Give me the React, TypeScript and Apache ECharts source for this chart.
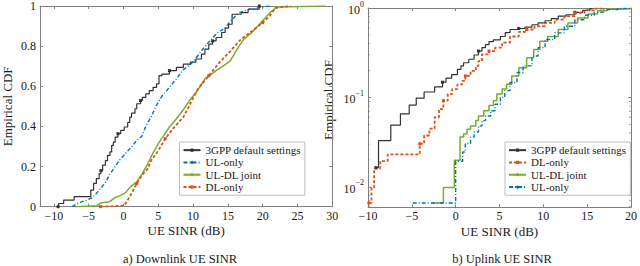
import React, { useEffect, useRef } from 'react';
import * as echarts from 'echarts';

const SERIF = 'Liberation Serif';
const N3GPP = '3GPP default settings';
const NUL = 'UL-only';
const NJOINT = 'UL-DL joint';
const NDL = 'DL-only';

// ---- axes ----
const dlXTicks = [-10, -5, 0, 5, 10, 15, 20, 25, 30];
const dlXRange = [-12, 30];
const ulXRange = [-10, 20];
const ulYRange = [0.0059, 1];
const logMinorTicks = [0.006, 0.007, 0.008, 0.009, 0.02, 0.03, 0.04, 0.05, 0.06, 0.07, 0.08, 0.09, 0.2, 0.3, 0.4, 0.5, 0.6, 0.7, 0.8, 0.9];

// ---- a) Downlink UE SINR: [SINR dB, empirical CDF] ----
const dl3gpp: [number, number][] = [
  [-9.4, 0], [-9.3, 0.016], [-8.6, 0.033], [-7.1, 0.05], [-4.7, 0.083], [-4.3, 0.116], [-3.9, 0.14],
  [-3.5, 0.165], [-3.25, 0.18], [-3.0, 0.207], [-2.6, 0.23], [-2.3, 0.256], [-1.95, 0.273], [-1.7, 0.306],
  [-1.45, 0.322], [-1.2, 0.347], [-0.8, 0.364], [-0.4, 0.38], [0.1, 0.397], [0.6, 0.42], [0.9, 0.446],
  [1.15, 0.466], [1.65, 0.488], [1.9, 0.513], [2.45, 0.529], [2.7, 0.545], [3.2, 0.562], [3.7, 0.578],
  [4.25, 0.595], [4.75, 0.612], [5.1, 0.653], [5.5, 0.661], [6.6, 0.678], [7.6, 0.694], [8.6, 0.71],
  [9.6, 0.72], [10.4, 0.736], [11.2, 0.76], [11.7, 0.785], [12.25, 0.81], [12.8, 0.826], [13.3, 0.843],
  [14.1, 0.868], [14.6, 0.89], [15.1, 0.909], [15.6, 0.959], [16.9, 0.967], [17.9, 0.984], [19.5, 1],
];
const dlUlOnly: [number, number][] = [
  [-7.4, 0], [-6.4, 0.02], [-5.5, 0.03], [-4.5, 0.045], [-3.8, 0.07], [-3.3, 0.09], [-2.6, 0.12],
  [-2.0, 0.16], [-1.2, 0.2], [-0.5, 0.235], [0.4, 0.27], [1.2, 0.3], [1.9, 0.33], [2.6, 0.35], [3.2, 0.4],
  [4.0, 0.45], [4.8, 0.51], [5.5, 0.55], [6.6, 0.595], [7.6, 0.637], [8.6, 0.683], [9.5, 0.705],
  [10.2, 0.73], [11.2, 0.777], [12.2, 0.818], [13.3, 0.86], [14.6, 0.892], [15.6, 0.934], [16.6, 0.967],
  [18.2, 0.984], [20, 0.995], [21, 1],
];
const dlJoint: [number, number][] = [
  [-6.9, 0], [-3.8, 0.005], [-3.2, 0.02], [-2.0, 0.025], [-1.2, 0.045], [-0.5, 0.055], [0.3, 0.07],
  [1.0, 0.1], [1.9, 0.124], [2.7, 0.165], [3.5, 0.215], [4.2, 0.265], [5.0, 0.314], [5.8, 0.355],
  [6.6, 0.397], [7.6, 0.438], [8.7, 0.488], [9.5, 0.53], [10.45, 0.57], [11.7, 0.637], [13.3, 0.678],
  [14.3, 0.7], [15.3, 0.725], [16.0, 0.765], [16.6, 0.8], [17.3, 0.835], [18.5, 0.87], [19.7, 0.915],
  [21, 0.965], [22, 0.995], [29, 1],
];
const dlDlOnly: [number, number][] = [
  [-3.3, 0], [0.1, 0.005], [0.6, 0.033], [0.9, 0.05], [1.4, 0.083], [1.9, 0.116], [2.6, 0.155],
  [3.5, 0.19], [4.0, 0.232], [5.0, 0.28], [6.0, 0.339], [7.1, 0.389], [8.6, 0.446], [9.7, 0.521],
  [10.7, 0.587], [12.25, 0.653], [13.8, 0.719], [15.4, 0.777], [16.9, 0.835], [18.5, 0.876],
  [20, 0.917], [21, 0.95], [21.8, 0.99], [24, 1],
];

// ---- b) Uplink UE SINR: [SINR dB, empirical CDF] ----
const ul3gpp: [number, number][] = [
  [-9.1, 0.0164], [-8.8, 0.0328], [-7.4, 0.049], [-6.3, 0.0656], [-5.3, 0.082], [-4.5, 0.098],
  [-3.6, 0.115], [-2.4, 0.131], [-1.5, 0.148], [-1.1, 0.164], [-0.45, 0.18], [0.2, 0.206], [0.6, 0.225],
  [0.9, 0.244], [1.5, 0.267], [2.1, 0.298], [2.6, 0.33], [3.0, 0.36], [3.4, 0.39], [3.8, 0.42],
  [4.3, 0.44], [5.1, 0.48], [5.65, 0.53], [6.2, 0.575], [7.2, 0.59], [7.9, 0.61], [8.7, 0.65],
  [9.4, 0.68], [10.2, 0.72], [10.9, 0.76], [11.7, 0.81], [12.6, 0.84], [13.6, 0.895], [14.5, 0.94],
  [15.3, 0.983], [15.6, 1],
];
const ulDlOnly: [number, number][] = [
  [-9.9, 0.0066], [-9.6, 0.0098], [-9.3, 0.016], [-8.6, 0.0194], [-7.75, 0.023], [-4.1, 0.0303],
  [-3.6, 0.0375], [-3.0, 0.0447], [-2.4, 0.06], [-1.9, 0.074], [-1.4, 0.092], [-0.9, 0.109],
  [-0.4, 0.124], [0.2, 0.14], [0.75, 0.153], [1.1, 0.174], [1.7, 0.198], [2.3, 0.225], [2.6, 0.255],
  [3.0, 0.303], [3.8, 0.33], [4.5, 0.36], [5.3, 0.41], [6.2, 0.48], [7.2, 0.54], [8.1, 0.575],
  [9.0, 0.625], [10.2, 0.68], [11.3, 0.74], [12.4, 0.81], [13.6, 0.88], [14.7, 0.94], [15.8, 0.983],
  [16.9, 1],
];
const ulJoint: [number, number][] = [
  [-2.6, 0.0066], [-1.4, 0.0098], [-0.15, 0.0198], [0.5, 0.036], [0.9, 0.039], [1.3, 0.044],
  [1.7, 0.048], [2.3, 0.055], [2.6, 0.062], [3.2, 0.071], [3.8, 0.081], [4.3, 0.092], [4.7, 0.109],
  [5.3, 0.124], [5.8, 0.14], [6.4, 0.174], [7.2, 0.215], [8.1, 0.278], [8.9, 0.344], [9.6, 0.426],
  [10.5, 0.48], [11.7, 0.575], [12.8, 0.68], [13.9, 0.774], [15.1, 0.857], [16.2, 0.934],
  [17.3, 0.966], [18.5, 0.983], [20, 1],
];
const ulUlOnly: [number, number][] = [
  [-4.9, 0.0066], [0.0, 0.0193], [0.8, 0.0245], [1.1, 0.0305], [1.7, 0.036], [2.1, 0.041],
  [2.6, 0.048], [3.0, 0.055], [3.4, 0.062], [4.0, 0.071], [4.5, 0.084], [5.1, 0.1], [5.6, 0.119],
  [6.2, 0.147], [7.0, 0.19], [7.7, 0.225], [8.7, 0.29], [9.4, 0.36], [10.2, 0.445], [11.3, 0.527],
  [12.4, 0.625], [13.6, 0.74], [14.7, 0.83], [15.8, 0.9], [16.9, 0.958], [18.5, 0.99], [20, 1],
];

const dlLegend = [N3GPP, NUL, NJOINT, NDL];
const ulLegend = [N3GPP, NDL, NJOINT, NUL];

const STYLE: Record<string, { color: string; width: number; type: any; symbol: string; every: number }> = {
  [N3GPP]: { color: '#333333', width: 1.2, type: 'solid', symbol: 'rect', every: 8 },
  [NUL]: { color: '#0072BD', width: 1.4, type: [4, 2, 1, 2], symbol: 'none', every: 0 },
  [NJOINT]: { color: '#77AC30', width: 1.5, type: 'solid', symbol: 'none', every: 0 },
  [NDL]: { color: '#D95319', width: 1.8, type: [3, 2], symbol: 'rect', every: 5 },
};

const FRAME = '#808080';
const TXT = '#1a1a1a';
const minus = (v: number | string) => String(v).replace('-', '\u2212');

function makeSeries(name: string, data: [number, number][], grid: number, step: boolean) {
  const s = STYLE[name];
  return {
    type: 'line',
    name,
    xAxisIndex: grid === 0 ? 0 : 2,
    yAxisIndex: grid === 0 ? 0 : 2,
    step: step ? 'end' : false,
    symbol: s.symbol,
    symbolSize: 3,
    showSymbol: true,
    silent: true,
    data: data.map((p, i) => ({
      value: p,
      symbol: s.every && i % s.every === 0 ? 'rect' : 'none',
    })),
    lineStyle: { color: s.color, width: s.width, type: s.type },
    itemStyle: { color: s.color },
  };
}

function minorSeries(xv: number, off: number) {
  return {
    type: 'scatter',
    xAxisIndex: 2,
    yAxisIndex: 2,
    silent: true,
    symbol: 'rect',
    symbolSize: [2, 0.8],
    symbolOffset: [off, 0],
    itemStyle: { color: FRAME },
    data: logMinorTicks.map((v) => [xv, v]),
    z: 1,
  };
}

const tickCommon = { inside: true, length: 3, lineStyle: { color: FRAME } };
const lineCommon = { show: true, onZero: false, lineStyle: { color: FRAME, width: 1 } };
const labelCommon = { color: TXT, fontFamily: SERIF, fontSize: 12, lineHeight: 12 };
const nameStyle = { color: TXT, fontFamily: SERIF, fontSize: 13, lineHeight: 13 };

const legendCommon = {
  orient: 'vertical',
  itemWidth: 17,
  itemHeight: 4,
  itemGap: 0,
  padding: [2, 4, 2, 3],
  borderColor: '#bdbdbd',
  borderWidth: 1,
  backgroundColor: '#ffffff',
  selectedMode: false,
  textStyle: { color: TXT, fontFamily: SERIF, fontSize: 11, lineHeight: 12.3 },
};

function logLabel(v: number) {
  const e = Math.round(Math.log10(v));
  if (Math.abs(v - Math.pow(10, e)) > 1e-6) return '';
  return `{b|10}{s|${e === 0 ? '0' : '\u2212' + -e}}`;
}

export default function App() {
  const ref = useRef<HTMLDivElement>(null);
  useEffect(() => {
    if (!ref.current) return;
    const chart = echarts.init(ref.current, undefined, { renderer: 'svg' });
    const option: any = {
      animation: false,
      backgroundColor: '#ffffff',
      textStyle: { fontFamily: SERIF },
      grid: [
        { left: 37.7, top: 4.5, width: 294.6, height: 202.2 },
        { left: 368, top: 7, width: 265.5, height: 200.3 },
      ],
      legend: [
        { ...legendCommon, left: 179.5, top: 142, data: dlLegend },
        { ...legendCommon, left: 505, top: 142, data: ulLegend },
      ],
      xAxis: [
        {
          gridIndex: 0, type: 'value', position: 'bottom', min: dlXRange[0], max: dlXRange[1],
          axisLine: lineCommon, axisTick: { ...tickCommon, customValues: dlXTicks },
          axisLabel: { ...labelCommon, margin: 3, customValues: dlXTicks, formatter: minus },
          splitLine: { show: false },
          name: 'UE SINR (dB)', nameLocation: 'middle', nameGap: 17.5, nameMoveOverlap: false,
          nameTextStyle: nameStyle,
        },
        {
          gridIndex: 0, type: 'value', position: 'top', min: dlXRange[0], max: dlXRange[1],
          axisLine: lineCommon, axisTick: { ...tickCommon, customValues: dlXTicks },
          axisLabel: { show: false }, splitLine: { show: false },
        },
        {
          gridIndex: 1, type: 'value', position: 'bottom', min: ulXRange[0], max: ulXRange[1], interval: 5,
          axisLine: lineCommon, axisTick: tickCommon,
          axisLabel: { ...labelCommon, margin: 3, formatter: minus },
          splitLine: { show: false },
          name: 'UE SINR (dB)', nameLocation: 'middle', nameGap: 17.5, nameMoveOverlap: false,
          nameTextStyle: nameStyle,
        },
        {
          gridIndex: 1, type: 'value', position: 'top', min: ulXRange[0], max: ulXRange[1], interval: 5,
          axisLine: lineCommon, axisTick: tickCommon,
          axisLabel: { show: false }, splitLine: { show: false },
        },
      ],
      yAxis: [
        {
          gridIndex: 0, type: 'value', position: 'left', min: 0, max: 1, interval: 0.2,
          axisLine: lineCommon, axisTick: tickCommon,
          axisLabel: {
            ...labelCommon, margin: 4,
            formatter: (v: number) => (v === 0 ? '0' : v === 1 ? '1' : v.toFixed(1)),
          },
          splitLine: { show: false },
          name: 'Empirical CDF', nameLocation: 'middle', nameGap: 26, nameMoveOverlap: false,
          nameTextStyle: nameStyle,
        },
        {
          gridIndex: 0, type: 'value', position: 'right', min: 0, max: 1, interval: 0.2,
          axisLine: lineCommon, axisTick: tickCommon,
          axisLabel: { show: false }, splitLine: { show: false },
        },
        {
          gridIndex: 1, type: 'log', logBase: 10, position: 'left', min: ulYRange[0], max: ulYRange[1],
          axisLine: lineCommon, axisTick: tickCommon,
          axisLabel: {
            ...labelCommon, margin: 4, formatter: logLabel,
            rich: {
              b: { fontFamily: SERIF, fontSize: 12, color: TXT, lineHeight: 16, verticalAlign: 'bottom' },
              s: { fontFamily: SERIF, fontSize: 8, color: TXT, lineHeight: 16, verticalAlign: 'top', padding: [0, 0, 6, 0] },
            },
          },
          splitLine: { show: false }, minorTick: { show: false },
        },
        {
          gridIndex: 1, type: 'log', logBase: 10, position: 'right', min: ulYRange[0], max: ulYRange[1],
          axisLine: lineCommon, axisTick: tickCommon,
          axisLabel: { show: false }, splitLine: { show: false },
        },
      ],
      series: [
        makeSeries(N3GPP, dl3gpp, 0, true),
        makeSeries(NUL, dlUlOnly, 0, false),
        makeSeries(NJOINT, dlJoint, 0, false),
        makeSeries(NDL, dlDlOnly, 0, false),
        makeSeries(N3GPP, ul3gpp, 1, true),
        makeSeries(NDL, ulDlOnly, 1, true),
        makeSeries(NJOINT, ulJoint, 1, true),
        makeSeries(NUL, ulUlOnly, 1, true),
        minorSeries(ulXRange[0], 1),
        minorSeries(ulXRange[1], -1),
      ],
      graphic: [
        {
          type: 'text', x: 328, y: 100, rotation: Math.PI / 2,
          style: { text: 'Empirical CDF', fontFamily: SERIF, fontSize: 13, fill: TXT, align: 'center', verticalAlign: 'middle' },
        },
        {
          type: 'text', x: 180, y: 258.5,
          style: { text: 'a) Downlink UE SINR', fontFamily: SERIF, fontSize: 12.5, fill: TXT, align: 'center', verticalAlign: 'middle' },
        },
        {
          type: 'text', x: 502, y: 258.5,
          style: { text: 'b) Uplink UE SINR', fontFamily: SERIF, fontSize: 12.5, fill: TXT, align: 'center', verticalAlign: 'middle' },
        },
      ],
    };
    chart.setOption(option);
    return () => chart.dispose();
  }, []);
  return (
    <div
      ref={ref}
      style={{ position: 'fixed', left: 0, top: 0, width: 640, height: 266, background: '#fff' }}
    />
  );
}
